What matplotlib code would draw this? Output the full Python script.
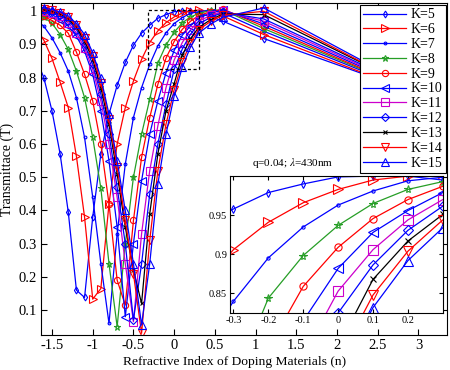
import matplotlib
matplotlib.use("Agg")
import matplotlib.pyplot as plt
from matplotlib.patches import Rectangle

plt.rcParams['font.family'] = ['Liberation Serif', 'DejaVu Serif']
plt.rcParams['mathtext.fontset'] = 'stix'

# ---------------- data ----------------
N_DENSE = [-1.7, -1.6, -1.5, -1.4, -1.3, -1.2, -1.1, -1.0, -0.9, -0.8, -0.7,
           -0.6, -0.5, -0.4, -0.3, -0.2, -0.1, 0.0, 0.1, 0.2, 0.3]
N_TAIL = [0.45, 0.6, 1.1, 3.4]
N = N_DENSE + N_TAIL

K_LABELS = ['K=5', 'K=6', 'K=7', 'K=8', 'K=9', 'K=10', 'K=11', 'K=12',
            'K=13', 'K=14', 'K=15']

T_K5 = [0.86, 0.80, 0.70, 0.57, 0.395, 0.16, 0.138, 0.38, 0.57, 0.69, 0.777,
        0.846, 0.898, 0.934, 0.958, 0.979, 0.99, 0.999, 1.0, 1.0, 0.995,
        0.984, 0.97, 0.918, 0.717]
T_K6 = [0.95, 0.913, 0.858, 0.786, 0.71, 0.563, 0.38, 0.133, 0.165, 0.42, 0.60,
        0.71, 0.79, 0.855, 0.906, 0.941, 0.966, 0.983, 0.995, 1.0, 1.004,
        0.998, 0.986, 0.93, 0.712]
T_K7 = [0.975, 0.955, 0.92, 0.875, 0.82, 0.74, 0.62, 0.44, 0.24, 0.06, 0.33,
        0.54, 0.68, 0.77, 0.84, 0.8955, 0.935, 0.963, 0.981, 0.994, 0.9986,
        1.004, 0.995, 0.94, 0.713]
T_K8 = [0.99, 0.982, 0.964, 0.93, 0.885, 0.82, 0.74, 0.62, 0.467, 0.24, 0.05,
        0.30, 0.50, 0.63, 0.735, 0.844, 0.8985, 0.937, 0.965, 0.983, 0.993,
        1.003, 1.004, 0.948, 0.713]
T_K9 = [0.995, 0.985, 0.972, 0.958, 0.934, 0.877, 0.81, 0.73, 0.60, 0.42, 0.19,
        0.115, 0.37, 0.56, 0.68, 0.78, 0.859, 0.909, 0.9457, 0.970, 0.987,
        0.999, 1.006, 0.955, 0.712]
T_K10 = [1.0, 0.997, 0.99, 0.975, 0.955, 0.925, 0.88, 0.81, 0.70, 0.55, 0.35,
         0.08, 0.30, 0.49, 0.63, 0.73, 0.815, 0.882, 0.928, 0.956, 0.979,
         0.995, 1.004, 0.962, 0.714]
T_K11 = [1.005, 1.0, 0.995, 0.985, 0.965, 0.935, 0.89, 0.825, 0.73, 0.60, 0.44,
         0.24, 0.065, 0.33, 0.52, 0.655, 0.77, 0.853, 0.906, 0.944, 0.970,
         0.988, 1.0, 0.97, 0.714]
T_K12 = [1.008, 1.004, 0.998, 0.99, 0.972, 0.945, 0.90, 0.84, 0.75, 0.63, 0.47,
         0.30, 0.07, 0.24, 0.45, 0.60, 0.72, 0.825, 0.8865, 0.9307, 0.9616,
         0.982, 0.997, 0.977, 0.715]
T_K13 = [1.01, 1.006, 1.0, 0.992, 0.977, 0.952, 0.91, 0.855, 0.77, 0.66, 0.51,
         0.35, 0.22, 0.12, 0.39, 0.57, 0.70, 0.782, 0.868, 0.917, 0.951,
         0.975, 0.992, 0.99, 0.713]
T_K14 = [1.012, 1.008, 1.003, 0.995, 0.982, 0.958, 0.92, 0.865, 0.785, 0.675, 0.53,
         0.37, 0.21, 0.03, 0.31, 0.52, 0.66, 0.763, 0.848, 0.904, 0.944,
         0.97, 0.988, 1.0, 0.708]
T_K15 = [1.014, 1.01, 1.005, 0.998, 0.986, 0.963, 0.93, 0.875, 0.80, 0.69, 0.55,
         0.40, 0.24, 0.055, 0.24, 0.48, 0.63, 0.745, 0.832, 0.892, 0.934,
         0.962, 0.982, 1.01, 0.708]

SERIES = [T_K5, T_K6, T_K7, T_K8, T_K9, T_K10, T_K11, T_K12, T_K13, T_K14, T_K15]

X_TICKS = [-1.5, -1, -0.5, 0, 0.5, 1, 1.5, 2, 2.5, 3]
X_TICKLABELS = ['-1.5', '-1', '-0.5', '0', '0.5', '1', '1.5', '2', '2.5', '3']
Y_TICKS = [0.1, 0.2, 0.3, 0.4, 0.5, 0.6, 0.7, 0.8, 0.9, 1.0]
Y_TICKLABELS = ['0.1', '0.2', '0.3', '0.4', '0.5', '0.6', '0.7', '0.8', '0.9', '1']
IN_X_TICKS = [-0.3, -0.2, -0.1, 0, 0.1, 0.2]
IN_X_TICKLABELS = ['-0.3', '-0.2', '-0.1', '0', '0.1', '0.2']
IN_Y_TICKS = [0.85, 0.9, 0.95]
IN_Y_TICKLABELS = ['0.85', '0.9', '0.95']
INSET_TITLE = 'q=0.04; $\\lambda$=430nm'

# ---------------- styles ----------------
GREEN = (0.15, 0.62, 0.15)
MAG = (0.8, 0.0, 0.8)
STYLES = [
    dict(color='blue', marker='d', ms=3.5),
    dict(color='red', marker='>', ms=6),
    dict(color='blue', marker='.', ms=4),
    dict(color=GREEN, marker='*', ms=5),
    dict(color='red', marker='o', ms=4.5),
    dict(color='blue', marker='<', ms=6),
    dict(color=MAG, marker='s', ms=6),
    dict(color='blue', marker='D', ms=4.5),
    dict(color='black', marker='x', ms=3.5),
    dict(color='red', marker='v', ms=6),
    dict(color='blue', marker='^', ms=6),
]

fig = plt.figure(figsize=(4.5, 3.7), dpi=100)
ax = fig.add_axes([0.0911, 0.0946, 0.9022, 0.8973])

handles = []
for T, st, lab in zip(SERIES, STYLES, K_LABELS):
    h, = ax.plot(N, T, color=st['color'], marker=st['marker'], ms=st['ms'],
                 mfc='none', mec=st['color'], mew=0.8, lw=0.9, label=lab)
    handles.append(h)

ax.set_xlim(-1.635, 3.35)
ax.set_ylim(0.025, 1.025)
ax.set_xticks(X_TICKS)
ax.set_xticklabels(X_TICKLABELS)
ax.set_yticks(Y_TICKS)
ax.set_yticklabels(Y_TICKLABELS)
ax.tick_params(direction='in', top=True, right=True, labelsize=10.5,
               length=4, width=0.8, pad=3)
for s in ax.spines.values():
    s.set_linewidth(0.8)
ax.set_xlabel('Refractive Index of Doping Materials (n)', fontsize=9.7)
ax.xaxis.set_label_coords(0.476, -0.063)
ax.set_ylabel('Transmittace (T)', fontsize=10, labelpad=3)

# dashed zoom box
ax.add_patch(Rectangle((-0.32, 0.826), 0.62, 0.178, fill=False,
                       ls=(0, (2.5, 2)), lw=0.9, ec='black', zorder=5))

leg = ax.legend(handles=handles, loc='upper right',
                bbox_to_anchor=(0.9911, 0.9865), bbox_transform=fig.transFigure,
                fontsize=10, frameon=True, fancybox=False, edgecolor='black',
                framealpha=1, handlelength=3.1, handletextpad=0.3,
                labelspacing=0.13, borderpad=0.25, borderaxespad=0)
leg.get_frame().set_linewidth(0.8)

# ---------------- inset ----------------
axi = fig.add_axes([0.511, 0.154, 0.473, 0.370])
for T, st in zip(SERIES, STYLES):
    axi.plot(N, T, color=st['color'], marker=st['marker'], ms=st['ms'] * 1.15,
             mfc='none', mec=st['color'], mew=0.8, lw=0.9)
axi.set_xlim(-0.31, 0.30)
axi.set_ylim(0.825, 1.0)
axi.set_xticks(IN_X_TICKS)
axi.set_xticklabels(IN_X_TICKLABELS)
axi.set_yticks(IN_Y_TICKS)
axi.set_yticklabels(IN_Y_TICKLABELS)
axi.tick_params(direction='in', top=True, right=True, labelsize=7.5,
                length=3, width=0.8, pad=2)
for s in axi.spines.values():
    s.set_linewidth(0.8)
fig.text(293 / 450, 1 - 163 / 370, INSET_TITLE, fontsize=8,
         ha='center', va='center')

fig.savefig('out.png', dpi=100)
